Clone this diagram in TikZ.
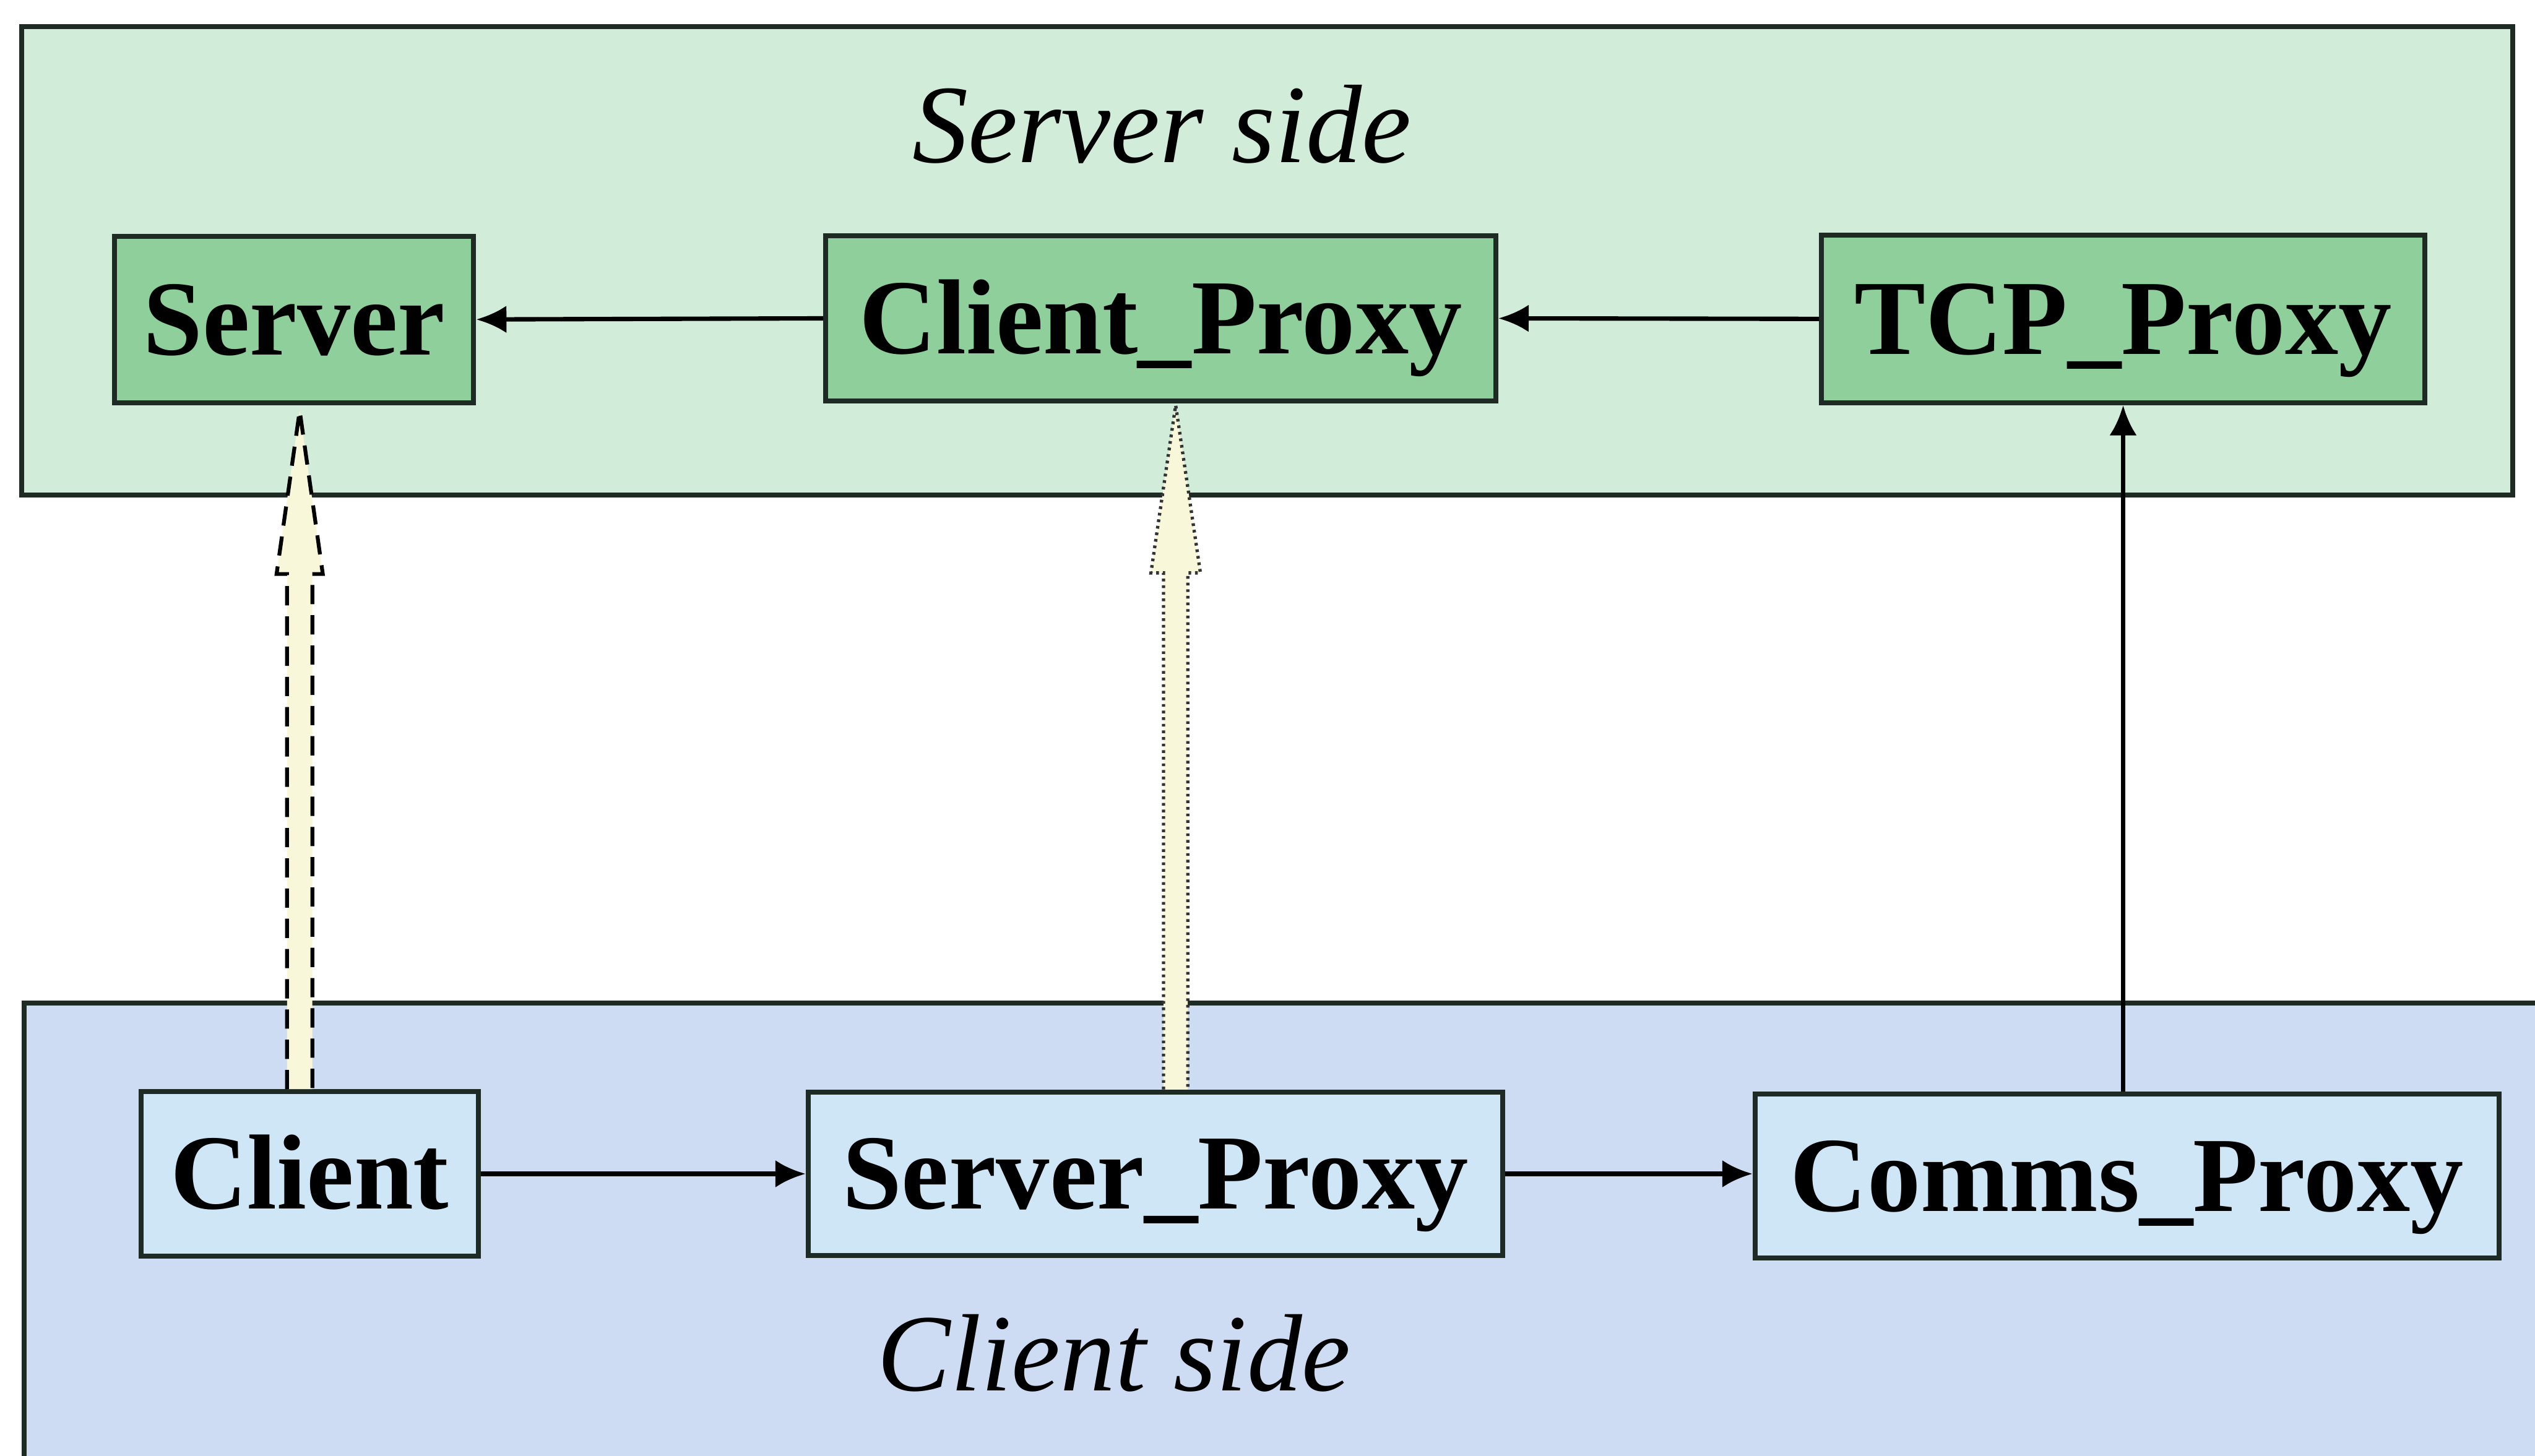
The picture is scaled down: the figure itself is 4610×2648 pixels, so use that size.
\documentclass[tikz,border=0pt]{standalone}
\usepackage{fontspec}
\setmainfont{Liberation Serif}
\usetikzlibrary{arrows.meta,calc}
\definecolor{srvbg}{HTML}{D2ECDA}
\definecolor{srvnode}{HTML}{8ECF9B}
\definecolor{clibg}{HTML}{CEDCF3}
\definecolor{clinode}{HTML}{CFE6F6}
\definecolor{cream}{HTML}{F9F7DA}
\definecolor{edgecol}{HTML}{1E2A24}
\begin{document}
\begin{tikzpicture}[x=0.1pt,y=-0.1pt,
  comp/.style={draw=edgecol, line width=0.9pt, minimum height=30pt, inner sep=0pt,
    font=\fontsize{19.4}{22}\selectfont\bfseries, text height=12.8pt, text depth=0pt},
  srvcomp/.style={comp, fill=srvnode},
  clicomp/.style={comp, fill=clinode},
  link/.style={draw=black, line width=0.8pt, -{Latex[length=5.5pt,width=5pt]}},
  fatdash/.style={fill=cream, draw=black, line width=0.7pt, dash pattern=on 3.5pt off 2pt},
  fatdot/.style={fill=cream, draw=black!80, line width=0.6pt, dash pattern=on 0.5pt off 0.7pt},
  group/.style={draw=edgecol, line width=0.9pt},
  sidelabel/.style={anchor=base, inner sep=0pt, font=\itshape}
]
\useasboundingbox (0,0) rectangle (4610,2648);
\clip (0,0) rectangle (4610,2648);
\fill[white] (0,0) rectangle (4610,2648);

% group boxes
\path[group, fill=srvbg] (39,48) rectangle (4569,900);
\path[group, fill=clibg] (44,1824) rectangle (4700,2800);

% side labels
\node[sidelabel, font=\fontsize{20.3}{24}\selectfont\itshape] (sslab) at (2113,295) {Server side};
\node[sidelabel, font=\fontsize{20}{24}\selectfont\itshape] (cslab) at (2026,2529) {Client side};

% components
\node[srvcomp, minimum width=65.3pt, minimum height=30.3pt] (srv) at (535,581) {Server};
\node[srvcomp, minimum width=121.9pt, minimum height=30.1pt] (cp) at (2111,579) {Client\_Proxy};
\node[srvcomp, minimum width=109.8pt, minimum height=30.5pt] (tcp) at (3861,580) {TCP\_Proxy};
\node[clicomp, minimum width=61.3pt, minimum height=29.9pt] (cli) at (563,2135) {Client};
\node[clicomp, minimum width=126.3pt, minimum height=29.8pt] (sp) at (2101,2135) {Server\_Proxy};
\node[clicomp, minimum width=135.3pt, minimum height=29.8pt] (cm) at (3868,2139) {Comms\_Proxy};

% thin connectors
\draw[link] (cp.west) -- (srv.east);
\draw[link] (tcp.west) -- (cp.east);
\draw[link] (cli.east) -- (sp.west);
\draw[link] (sp.east) -- (sp.east -| cm.west);
\draw[link] (cm.north -| tcp.south) -- (tcp.south);

% fat dashed arrow Client -> Server
\coordinate (dA) at ($(cli.north -| srv.south)+(10,0)$);
\coordinate (dB) at ($(srv.south)+(10,10)$);
\path[fatdash] ($(dA)+(-23,0)$) -- ($(dB)+(-23,297)$) -- ($(dB)+(-42,297)$) -- (dB)
  -- ($(dB)+(42,297)$) -- ($(dB)+(23,297)$) -- ($(dA)+(23,0)$);

% fat dotted arrow Server_Proxy -> Client_Proxy
\coordinate (pA) at ($(sp.north)+(37,0)$);
\coordinate (pB) at ($(cp.south)+(27,3)$);
\path[fatdot] ($(pA)+(-22,0)$) -- ($(pB)+(-22,305)$) -- ($(pB)+(-45,305)$) -- (pB)
  -- ($(pB)+(45,305)$) -- ($(pB)+(22,305)$) -- ($(pA)+(22,0)$);
\end{tikzpicture}
\end{document}
